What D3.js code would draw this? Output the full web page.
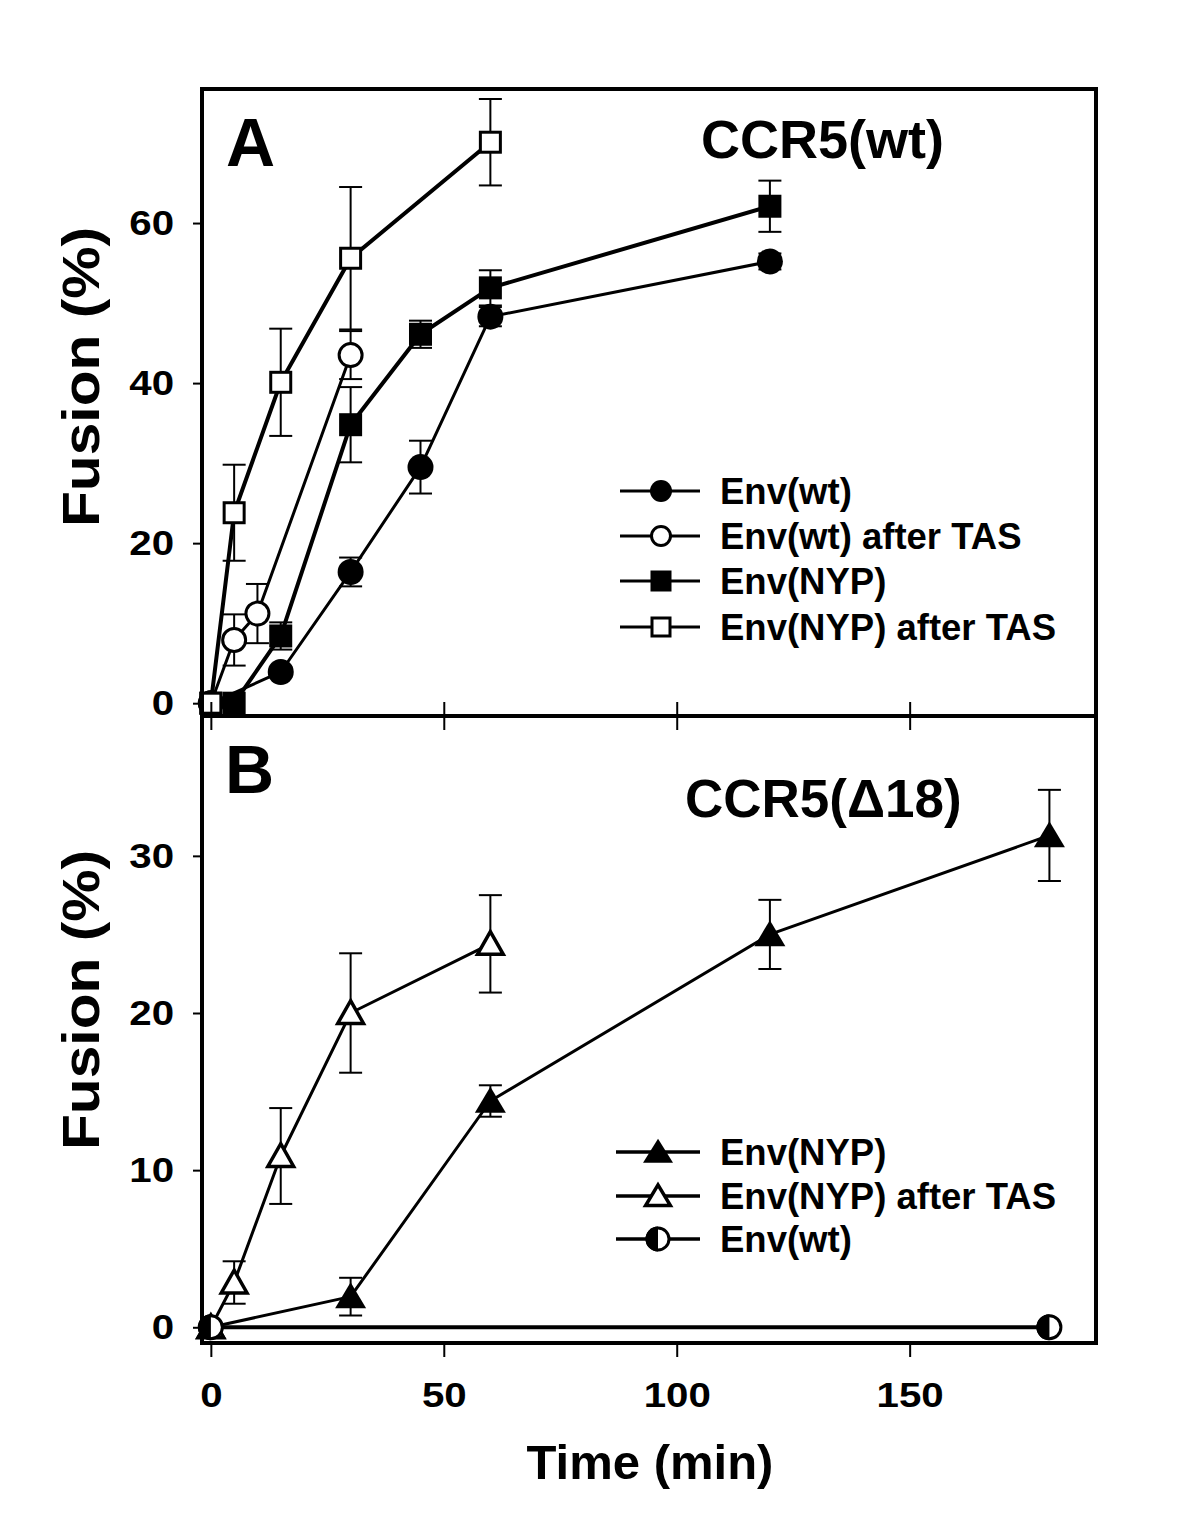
<!DOCTYPE html>
<html><head><meta charset="utf-8">
<script src="https://cdn.jsdelivr.net/npm/d3@7"></script>
<style>
html,body{margin:0;padding:0;background:#fff;}
text{font-family:"Liberation Sans",Arial,Helvetica,sans-serif;font-weight:bold;fill:#000;}
</style></head>
<body><svg id="chart" width="1200" height="1527"></svg>
<script>
// ---------- DATA ----------
// Panel A: CCR5(wt)
const timeA_wt = [0, 15, 30, 45, 60, 120];
const fusA_wt = [0, 3.9, 16.4, 29.5, 48.3, 55.2];
const errA_wt = [0, 0.6, 1.8, 3.3, 1.2, 1.0];

const timeA_wtTAS = [0, 5, 10, 30];
const fusA_wtTAS = [0, 7.9, 11.2, 43.5];
const errA_wtTAS = [0, 3.2, 3.7, 3.0];

const timeA_nyp = [0, 5, 15, 30, 45, 60, 120];
const fusA_nyp = [0, 0, 8.4, 34.8, 46.1, 51.9, 62.1];
const errA_nyp = [0, 0, 1.7, 4.7, 1.7, 2.2, 3.2];

const timeA_nypTAS = [0, 5, 15, 30, 60];
const fusA_nypTAS = [0, 23.8, 40.1, 55.6, 70.1];
const errA_nypTAS = [0, 6.0, 6.7, 8.9, 5.4];

// Panel B: CCR5(Δ18)
const timeB_nyp = [0, 30, 60, 120, 180];
const fusB_nyp = [0, 1.95, 14.4, 25.0, 31.3];
const errB_nyp = [0, 1.2, 1.0, 2.2, 2.9];

const timeB_nypTAS = [0, 5, 15, 30, 60];
const fusB_nypTAS = [0, 2.85, 10.9, 20.0, 24.4];
const errB_nypTAS = [0, 1.35, 3.05, 3.8, 3.1];

const timeB_wt = [0, 180];
const fusB_wt = [0, 0];

// Axis ticks and labels
const xTicks = [0, 50, 100, 150];
const yTicksA = [0, 20, 40, 60];
const yTicksB = [0, 10, 20, 30];
const legendA = ["Env(wt)", "Env(wt) after TAS", "Env(NYP)", "Env(NYP) after TAS"];
const legendB = ["Env(NYP)", "Env(NYP) after TAS", "Env(wt)"];

// ---------- LAYOUT ----------
const L = 202, R = 1096, T = 89, MID = 716, B = 1343;
const svg = d3.select("#chart");
svg.append("rect").attr("width",1200).attr("height",1527).attr("fill","#fff");

const x = d3.scaleLinear().domain([-1.9, 190]).range([L, R]);
const yA = d3.scaleLinear().domain([-1.6, 76.75]).range([MID, T]);
const yB = d3.scaleLinear().domain([-1.0, 38.9]).range([B, MID]);

function zip(t, v, e){ return t.map((d,i)=>({t:d, v:v[i], e: e ? e[i] : 0})); }

// marker drawing
function marker(g, kind, cx, cy, s){
  const k = kind;
  if (k==="circleF") return g.append("circle").attr("cx",cx).attr("cy",cy).attr("r",s.r).attr("fill","#000");
  if (k==="circleO") return g.append("circle").attr("cx",cx).attr("cy",cy).attr("r",s.r-1.5).attr("fill","#fff").attr("stroke","#000").attr("stroke-width",3);
  if (k==="squareF") return g.append("rect").attr("x",cx-s.sq/2).attr("y",cy-s.sq/2).attr("width",s.sq).attr("height",s.sq).attr("fill","#000");
  if (k==="squareO") return g.append("rect").attr("x",cx-(s.sq-3)/2).attr("y",cy-(s.sq-3)/2).attr("width",s.sq-3).attr("height",s.sq-3).attr("fill","#fff").attr("stroke","#000").attr("stroke-width",3);
  if (k==="triF" || k==="triO"){
    const w = s.tw, h = s.th, off = k==="triO" ? 2 : 0;
    const p = d3.path();
    p.moveTo(cx, cy - h*0.55 + off);
    p.lineTo(cx + w/2 - off*1.3, cy + h*0.45 - off*0.6);
    p.lineTo(cx - w/2 + off*1.3, cy + h*0.45 - off*0.6);
    p.closePath();
    return g.append("path").attr("d", p.toString())
      .attr("fill", k==="triF" ? "#000" : "#fff").attr("stroke","#000").attr("stroke-width", k==="triO"?3.5:0).attr("stroke-linejoin","miter");
  }
  if (k==="half"){
    const r = s.r;
    g.append("circle").attr("cx",cx).attr("cy",cy).attr("r",r-1.5).attr("fill","#fff").attr("stroke","#000").attr("stroke-width",3);
    const p = d3.path();
    p.moveTo(cx, cy - r);
    p.arc(cx, cy, r, -Math.PI/2, Math.PI/2, true);
    p.closePath();
    return g.append("path").attr("d", p.toString()).attr("fill","#000");
  }
}

const plotSize = {r:13, sq:23, tw:31, th:26};
const legSize = {r:11, sq:21, tw:30, th:24};

function series(g, yScale, data, kind, lw, withErr){
  const line = d3.line().x(d=>x(d.t)).y(d=>yScale(d.v));
  g.append("path").datum(data).attr("d", line).attr("fill","none").attr("stroke","#000").attr("stroke-width", lw).attr("stroke-linejoin","round");
  if (withErr){
    data.filter(d=>d.e>0).forEach(d=>{
      const cx = x(d.t), y1 = yScale(d.v + d.e), y2 = yScale(d.v - d.e);
      g.append("line").attr("x1",cx).attr("x2",cx).attr("y1",y1).attr("y2",y2).attr("stroke","#000").attr("stroke-width",2);
      [y1,y2].forEach(yy=>g.append("line").attr("x1",cx-11.5).attr("x2",cx+11.5).attr("y1",yy).attr("y2",yy).attr("stroke","#000").attr("stroke-width",2));
    });
  }
  data.forEach(d=> marker(g, kind, x(d.t), yScale(d.v), plotSize));
}

// ---------- PANEL A ----------
const gA = svg.append("g");
series(gA, yA, zip(timeA_wt, fusA_wt, errA_wt), "circleF", 3, true);
series(gA, yA, zip(timeA_wtTAS, fusA_wtTAS, errA_wtTAS), "circleO", 3, true);
series(gA, yA, zip(timeA_nyp, fusA_nyp, errA_nyp), "squareF", 4, true);
series(gA, yA, zip(timeA_nypTAS, fusA_nypTAS, errA_nypTAS), "squareO", 4, true);

// ---------- PANEL B ----------
const gB = svg.append("g");
series(gB, yB, zip(timeB_nyp, fusB_nyp, errB_nyp), "triF", 3, true);
series(gB, yB, zip(timeB_nypTAS, fusB_nypTAS, errB_nypTAS), "triO", 3, true);
series(gB, yB, zip(timeB_wt, fusB_wt, null), "half", 4, false);

// ---------- AXES ----------
const SX = 1.15; // horizontal stretch of tick labels
function styleAxis(sel, fs, left){
  sel.select(".domain").remove();
  sel.selectAll(".tick line").attr("stroke","#000").attr("stroke-width",2);
  const t = sel.selectAll(".tick text").style("font-size", fs+"px").style("font-weight","bold")
     .style("font-family",'"Liberation Sans",Arial,sans-serif').attr("fill","#000");
  if (left) t.attr("x", +t.attr("x")/SX);
  t.attr("transform", `scale(${SX},1)`);
}
const axA = svg.append("g").attr("transform",`translate(${L},0)`)
  .call(d3.axisLeft(yA).tickValues(yTicksA).tickSize(9).tickPadding(19).tickFormat(d3.format("d")));
styleAxis(axA, 35, true);
const axB = svg.append("g").attr("transform",`translate(${L},0)`)
  .call(d3.axisLeft(yB).tickValues(yTicksB).tickSize(9).tickPadding(19).tickFormat(d3.format("d")));
styleAxis(axB, 35, true);
const axX = svg.append("g").attr("transform",`translate(0,${B})`)
  .call(d3.axisBottom(x).tickValues(xTicks).tickSize(14).tickPadding(25).tickFormat(d3.format("d")));
styleAxis(axX, 35, false);
const axMid = svg.append("g").attr("transform",`translate(0,${MID-14})`)
  .call(d3.axisBottom(x).tickValues(xTicks).tickSize(28).tickFormat(""));
axMid.select(".domain").remove();
axMid.selectAll(".tick line").attr("stroke","#000").attr("stroke-width",2);

// frame
svg.append("rect").attr("x",L).attr("y",T).attr("width",R-L).attr("height",B-T)
  .attr("fill","none").attr("stroke","#000").attr("stroke-width",4);
svg.append("line").attr("x1",L).attr("x2",R).attr("y1",MID).attr("y2",MID)
  .attr("stroke","#000").attr("stroke-width",4);

// ---------- TEXT ----------
svg.append("text").attr("x",226).attr("y",166).style("font-size","68px").text("A");
svg.append("text").attr("x",701).attr("y",158).style("font-size","54px").text("CCR5(wt)");
svg.append("text").attr("x",225).attr("y",793).style("font-size","68px").text("B");
svg.append("text").attr("x",685).attr("y",817).style("font-size","53px").text("CCR5(\u039418)");

svg.append("text").attr("transform","translate(99,377) rotate(-90) scale(1.13,1)").attr("text-anchor","middle").style("font-size","52px").text("Fusion (%)");
svg.append("text").attr("transform","translate(99,1000) rotate(-90) scale(1.13,1)").attr("text-anchor","middle").style("font-size","52px").text("Fusion (%)");
svg.append("text").attr("x",650).attr("y",1479).attr("text-anchor","middle").style("font-size","49px").text("Time (min)");

// ---------- LEGENDS ----------
const legKindsA = ["circleF","circleO","squareF","squareO"];
const legRowsA = [491, 536, 581, 627];
legendA.forEach((lab,i)=>{
  const g = svg.append("g"), yy = legRowsA[i];
  g.append("line").attr("x1",620).attr("x2",700).attr("y1",yy).attr("y2",yy).attr("stroke","#000").attr("stroke-width",3);
  marker(g, legKindsA[i], 661, yy, legSize);
  g.append("text").attr("x",720).attr("y",yy).attr("dy","0.36em").style("font-size","36.5px").text(lab);
});
const legKindsB = ["triF","triO","half"];
const legRowsB = [1152, 1196, 1239];
legendB.forEach((lab,i)=>{
  const g = svg.append("g"), yy = legRowsB[i];
  g.append("line").attr("x1",616).attr("x2",700).attr("y1",yy).attr("y2",yy).attr("stroke","#000").attr("stroke-width",3.5);
  marker(g, legKindsB[i], 658, yy, {r:12.5, sq:20, tw:30, th:24});
  g.append("text").attr("x",720).attr("y",yy).attr("dy","0.36em").style("font-size","36.5px").text(lab);
});
</script></body></html>
